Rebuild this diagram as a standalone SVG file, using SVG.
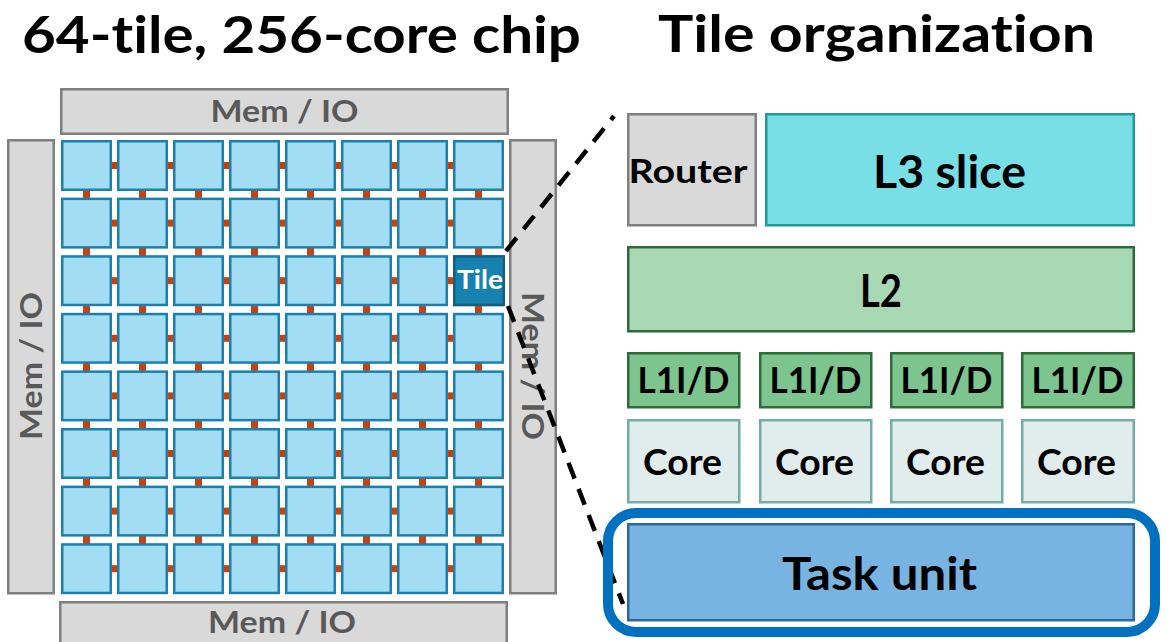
<svg xmlns="http://www.w3.org/2000/svg" xmlns:xlink="http://www.w3.org/1999/xlink" width="1174" height="642" viewBox="0 0 1174 642">
<style>
text{font-family:Lato,"Open Sans","Liberation Sans",sans-serif;font-weight:700;text-anchor:middle;font-variant-ligatures:none}
.title{font-size:52px;fill:#000}
.mem{fill:#D9D9D9;stroke:#7F7F7F;stroke-width:2.5}
.memt{font-size:30px;fill:#595959}
.tile{fill:#A3DDF3;stroke:#1A80B0;stroke-width:2.5}
.link{fill:#C8400E}
.dash{stroke:#000;stroke-width:4.5;stroke-dasharray:17 11;fill:none}
.lbl{fill:#000}
.router{fill:#D9D9D9;stroke:#7F7F7F;stroke-width:2.5}
.l3{fill:#78DFE6;stroke:#1E9AA0;stroke-width:2.5}
.l2{fill:#A9D8B5;stroke:#2E6B3C;stroke-width:2.5}
.l1{fill:#7DC58F;stroke:#2F6B3A;stroke-width:2.5}
.core{fill:#E1EDED;stroke:#72ADA8;stroke-width:2.5}
.task{fill:#77B4E2;stroke:#2B6A9E;stroke-width:2.5}
</style>
<defs>
<rect id="t" class="tile" x="1.25" y="1.25" width="48.5" height="48.5"/>
<rect id="h" class="link" x="48" y="22" width="10" height="7"/>
<rect id="v" class="link" x="22" y="49" width="7" height="10"/>
<g id="trow">
<use xlink:href="#t" x="61"/><use xlink:href="#t" x="117"/><use xlink:href="#t" x="173"/><use xlink:href="#t" x="229"/>
<use xlink:href="#t" x="285"/><use xlink:href="#t" x="341"/><use xlink:href="#t" x="397"/><use xlink:href="#t" x="453"/>
</g>
<g id="hrow">
<use xlink:href="#h" x="61"/><use xlink:href="#h" x="117"/><use xlink:href="#h" x="173"/><use xlink:href="#h" x="229"/>
<use xlink:href="#h" x="285"/><use xlink:href="#h" x="341"/><use xlink:href="#h" x="397"/>
</g>
<g id="vrow">
<use xlink:href="#v" x="61"/><use xlink:href="#v" x="117"/><use xlink:href="#v" x="173"/><use xlink:href="#v" x="229"/>
<use xlink:href="#v" x="285"/><use xlink:href="#v" x="341"/><use xlink:href="#v" x="397"/><use xlink:href="#v" x="453"/>
</g>
</defs>

<g id="titles">
<text class="title" x="301.5" y="53" textLength="559" lengthAdjust="spacingAndGlyphs">64-tile, 256-core chip</text>
<text class="title" x="876.5" y="52" textLength="437" lengthAdjust="spacingAndGlyphs">Tile organization</text>
</g>

<g id="mem-top"><rect class="mem" x="61.25" y="89.25" width="446.5" height="44.5"/><text class="memt" x="284.5" y="122" textLength="148" lengthAdjust="spacingAndGlyphs">Mem / IO</text></g>
<g id="mem-bottom"><rect class="mem" x="60.25" y="602.25" width="446.5" height="44"/><text class="memt" x="282" y="633" textLength="148" lengthAdjust="spacingAndGlyphs">Mem / IO</text></g>
<g id="mem-left"><rect class="mem" x="8.25" y="140.25" width="45.5" height="453"/><text class="memt" transform="translate(42,366) rotate(-90)" textLength="148" lengthAdjust="spacingAndGlyphs">Mem / IO</text></g>
<g id="mem-right"><rect class="mem" x="510.25" y="140.25" width="45.5" height="453"/><text class="memt" transform="translate(522,366) rotate(90)" textLength="148" lengthAdjust="spacingAndGlyphs">Mem / IO</text></g>

<g id="connectors">
<g id="mesh-links">
<use xlink:href="#hrow" y="140"/><use xlink:href="#hrow" y="197.6"/><use xlink:href="#hrow" y="255.2"/><use xlink:href="#hrow" y="312.8"/>
<use xlink:href="#hrow" y="370.4"/><use xlink:href="#hrow" y="428"/><use xlink:href="#hrow" y="485.6"/><use xlink:href="#hrow" y="543.2"/>
<use xlink:href="#vrow" y="140"/><use xlink:href="#vrow" y="197.6"/><use xlink:href="#vrow" y="255.2"/><use xlink:href="#vrow" y="312.8"/>
<use xlink:href="#vrow" y="370.4"/><use xlink:href="#vrow" y="428"/><use xlink:href="#vrow" y="485.6"/>
</g>
<line class="dash" x1="506" y1="251" x2="614" y2="116"/>
<line class="dash" x1="508" y1="306" x2="623" y2="604"/>
</g>

<g id="tile-grid">
<use xlink:href="#trow" y="140"/><use xlink:href="#trow" y="197.6"/><use xlink:href="#trow" y="255.2"/><use xlink:href="#trow" y="312.8"/>
<use xlink:href="#trow" y="370.4"/><use xlink:href="#trow" y="428"/><use xlink:href="#trow" y="485.6"/><use xlink:href="#trow" y="543.2"/>
</g>
<g id="tile-highlight">
<rect x="454.25" y="256.45" width="49.5" height="48.5" fill="#1781B0" stroke="#12607F" stroke-width="2.5"/>
<text x="480" y="289" font-size="26" fill="#FFFFFF" textLength="46" lengthAdjust="spacingAndGlyphs">Tile</text>
</g>

<g id="router"><rect class="router" x="628.25" y="114.25" width="127.5" height="111"/><text class="lbl" x="688" y="183" font-size="33" textLength="119" lengthAdjust="spacingAndGlyphs">Router</text></g>
<g id="l3"><rect class="l3" x="766.25" y="114.25" width="367.5" height="111"/><text class="lbl" x="949.5" y="188" font-size="46" textLength="153" lengthAdjust="spacingAndGlyphs">L3 slice</text></g>
<g id="l2"><rect class="l2" x="628.25" y="247.25" width="505.5" height="84"/><text class="lbl" x="881" y="307" font-size="46" textLength="42" lengthAdjust="spacingAndGlyphs">L2</text></g>

<g id="l1-0"><rect class="l1" x="628.25" y="353.25" width="111" height="54"/><text class="lbl" x="683.5" y="393" font-size="36" textLength="92" lengthAdjust="spacingAndGlyphs">L1I/D</text></g>
<g id="l1-1"><rect class="l1" x="760.25" y="353.25" width="111" height="54"/><text class="lbl" x="815.5" y="393" font-size="36" textLength="92" lengthAdjust="spacingAndGlyphs">L1I/D</text></g>
<g id="l1-2"><rect class="l1" x="891.25" y="353.25" width="111" height="54"/><text class="lbl" x="946.5" y="393" font-size="36" textLength="92" lengthAdjust="spacingAndGlyphs">L1I/D</text></g>
<g id="l1-3"><rect class="l1" x="1022.25" y="353.25" width="111.5" height="54"/><text class="lbl" x="1077.5" y="393" font-size="36" textLength="92" lengthAdjust="spacingAndGlyphs">L1I/D</text></g>

<g id="core-0"><rect class="core" x="628.25" y="420.25" width="111" height="82"/><text class="lbl" x="682.5" y="475" font-size="36" textLength="79" lengthAdjust="spacingAndGlyphs">Core</text></g>
<g id="core-1"><rect class="core" x="760.25" y="420.25" width="111" height="82"/><text class="lbl" x="814.5" y="475" font-size="36" textLength="79" lengthAdjust="spacingAndGlyphs">Core</text></g>
<g id="core-2"><rect class="core" x="891.25" y="420.25" width="111" height="82"/><text class="lbl" x="945.5" y="475" font-size="36" textLength="79" lengthAdjust="spacingAndGlyphs">Core</text></g>
<g id="core-3"><rect class="core" x="1022.25" y="420.25" width="111.5" height="82"/><text class="lbl" x="1076.5" y="475" font-size="36" textLength="79" lengthAdjust="spacingAndGlyphs">Core</text></g>

<g id="task-unit"><rect class="task" x="628.25" y="524.25" width="505.5" height="96"/><text class="lbl" x="879.5" y="590" font-size="46" textLength="195" lengthAdjust="spacingAndGlyphs">Task unit</text></g>
<g id="task-highlight"><rect x="608" y="513" width="547" height="119" rx="28" ry="28" fill="none" stroke="#0070C0" stroke-width="10"/></g>
</svg>
